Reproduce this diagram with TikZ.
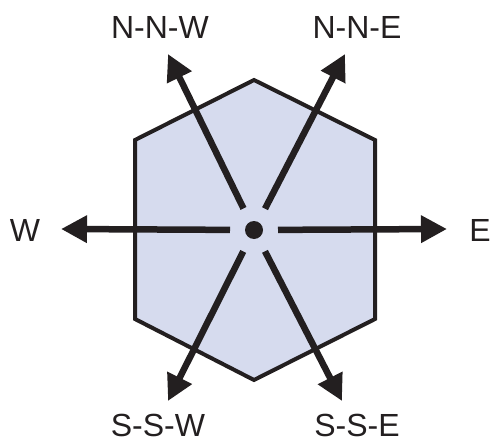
\documentclass[tikz,border=0pt]{standalone}
\usepackage{fontspec}
\setmainfont{Liberation Sans}
\usetikzlibrary{arrows.meta}
\definecolor{ink}{RGB}{35,31,32}
\definecolor{hexfill}{RGB}{214,219,238}
\begin{document}
\begin{tikzpicture}[x=1pt,y=-1pt,
  hexline/.style={draw=ink,line width=4pt,fill=hexfill,line join=miter},
  ray/.style={draw=ink,line width=6.5pt,-{Triangle[length=26pt,width=26pt]},shorten <=24pt},
  lbl/.style={text=ink,font=\fontsize{32}{38}\selectfont,inner sep=0pt}]
\useasboundingbox (0,0) rectangle (492,441);
\draw[hexline] (254,80) -- (375,140) -- (375,319) -- (254,380) -- (135,319) -- (135,140) -- cycle;
\node[circle,fill=ink,minimum size=18pt,inner sep=0pt] (c) at (254,230) {};
\coordinate (nnwT) at (168,54);
\coordinate (nneT) at (345,54);
\coordinate (wT) at (61,229);
\coordinate (eT) at (447,229);
\coordinate (sswT) at (168,401);
\coordinate (sseT) at (342,401);
\draw[ray] (c.center) -- (nnwT);
\draw[ray] (c.center) -- (nneT);
\draw[ray] (c.center) -- (wT);
\draw[ray] (c.center) -- (eT);
\draw[ray] (c.center) -- (sswT);
\draw[ray] (c.center) -- (sseT);
\node[lbl] (nnw) at (160,27) {N-N-W};
\node[lbl] (nne) at (357,27) {N-N-E};
\node[lbl] (w) at (25,230) {W};
\node[lbl] (e) at (480,230) {E};
\node[lbl] (ssw) at (158,425) {S-S-W};
\node[lbl] (sse) at (357,425) {S-S-E};
\end{tikzpicture}
\end{document}
